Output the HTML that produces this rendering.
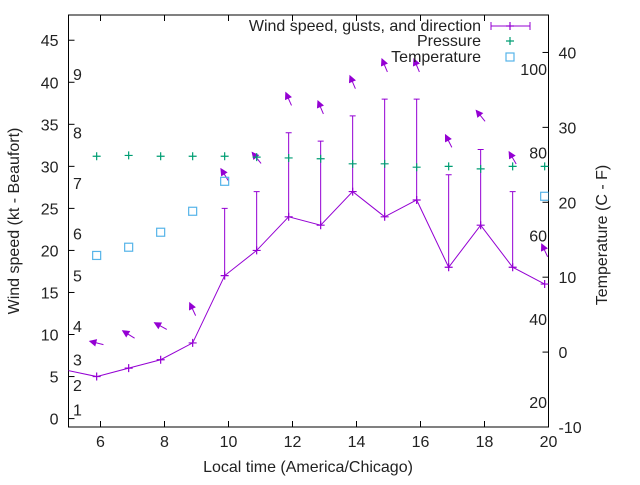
<!DOCTYPE html>
<html><head><meta charset="utf-8"><style>
body{margin:0;background:#fff}
svg text{font-family:"Liberation Sans",Arial,sans-serif;font-size:16px;fill:#222}
</style></head><body>
<svg id="c" width="640" height="480" viewBox="0 0 640 480">
<defs><clipPath id="pc"><rect x="68.5" y="15" width="480" height="412"/></clipPath></defs>
<g id="grid"></g>
<g id="marks" clip-path="url(#pc)"></g>
<g id="legend"></g>
</svg>
<script>
const times=[5.88,6.88,7.88,8.88,9.88,10.88,11.88,12.88,13.88,14.88,15.88,16.88,17.88,18.88,19.88];
const speed=[5,6,7,9,17,20,24,23,27,24,26,18,23,18,16];
const gust=[null,null,null,null,25,27,34,33,36,38,38,29,32,27,null];
const pressure=[31.2,31.3,31.2,31.2,31.2,31.1,31.0,30.9,30.3,30.3,29.9,30.0,29.7,30.0,30.0];
const tempC=[12.9,14,16,18.8,22.8,null,null,null,null,null,null,null,null,null,20.8];
const windDir=[104,122,119,155,148,141,156,157,157,157,157,153,141,150,155];
const prevTime=4.88, prevSpeed=5.8;
const xTicks=[6,8,10,12,14,16,18,20];
const yTicks=[0,5,10,15,20,25,30,35,40,45];
const y2Ticks=[-10,0,10,20,30,40];
const beaufortLabels=[[1,1.1],[2,4],[3,7],[4,11],[5,17],[6,22],[7,28],[8,34],[9,41]];
const fahrenheitLabels=[20,40,60,80,100];

const X0=68.5,X1=548.5,YT=15,YB=427;
const xs=t=>X0+(t-5)/15*(X1-X0);
const ys=v=>YB-(v+1)/49*(YB-YT);
const y2=c=>YB-(c+10)/55*(YB-YT);
const NS='http://www.w3.org/2000/svg';
function mk(tag,attrs,parent,txt){const e=document.createElementNS(NS,tag);for(const k in attrs)e.setAttribute(k,attrs[k]);if(txt!=null)e.textContent=txt;parent.appendChild(e);return e;}
const G=document.getElementById('grid'),M=document.getElementById('marks'),L=document.getElementById('legend');
// frame
let fr=mk('rect',{x:X0,y:YT,width:X1-X0,height:YB-YT,fill:'none',stroke:'#000','stroke-width':1},G);

xTicks.forEach(t=>{const x=xs(t);
 mk('line',{x1:x,y1:YB,x2:x,y2:YB-6,stroke:'#000'},G);mk('line',{x1:x,y1:YT,x2:x,y2:YT+6,stroke:'#000'},G);
 const tx=mk('text',{x:x,y:YB+20,'text-anchor':'middle'},G,t);
 });
yTicks.forEach(v=>{const y=ys(v);mk('line',{x1:X0,y1:y,x2:X0+6,y2:y,stroke:'#000'},G);
 const tx=mk('text',{x:X0-10,y:y+6,'text-anchor':'end'},G,v);
 });
y2Ticks.forEach(v=>{const y=y2(v);mk('line',{x1:X1,y1:y,x2:X1-6,y2:y,stroke:'#000'},G);
 const tx=mk('text',{x:X1+10,y:y+6},G,v);
 });
beaufortLabels.forEach(b=>{const tx=mk('text',{x:73,y:ys(b[1])+6},G,b[0]);
 });
fahrenheitLabels.forEach(f=>{const tx=mk('text',{x:547,y:y2((f-32)*5/9)+6,'text-anchor':'end'},G,f);
 });
let t1=mk('text',{x:308,y:472,'text-anchor':'middle'},G,'Local time (America/Chicago)');

let t2=mk('text',{x:0,y:0,'text-anchor':'middle',transform:'translate(19,221) rotate(-90)'},G,'Wind speed (kt - Beaufort)');

let t3=mk('text',{x:0,y:0,'text-anchor':'middle',transform:'translate(607,235) rotate(-90)'},G,'Temperature (C - F)');


const P='#9400d3',GR='#009e73',BL='#56b4e9';
function plus(x,y,c,par){mk('path',{d:`M${x-4},${y}H${x+4}M${x},${y-4}V${y+4}`,stroke:c,'stroke-width':1.2,fill:'none'},par);}
// wind line
let pts=[[xs(prevTime),ys(prevSpeed)]].concat(times.map((t,i)=>[xs(t),ys(speed[i])]));
let ln=mk('polyline',{points:pts.map(p=>p.join(',')).join(' '),fill:'none',stroke:P,'stroke-width':1},M);

times.forEach((t,i)=>{const x=xs(t);
 if(gust[i]!=null){const g=mk('path',{d:`M${x},${ys(speed[i])}V${ys(gust[i])}M${x-3},${ys(gust[i])}H${x+3}`,stroke:P,fill:'none'},M);
  }
 plus(x,ys(speed[i]),P,M);
 // arrow
 const top=Math.max(speed[i],gust[i]||0)+4,cy=ys(top);
 const b=(windDir[i]+180)*Math.PI/180,dx=Math.sin(b),dy=-Math.cos(b);
 const hx=x+dx*7,hy=cy+dy*7,tx=x-dx*7,tyy=cy-dy*7;
 const ag=mk('g',{},M);
 mk('line',{x1:tx,y1:tyy,x2:hx,y2:hy,stroke:P,'stroke-width':1},ag);
 const px=-dy,py=dx;
 mk('polygon',{points:`${hx},${hy} ${hx-dx*6+px*3},${hy-dy*6+py*3} ${hx-dx*6-px*3},${hy-dy*6-py*3}`,fill:P,stroke:P},ag);
 // pressure
 plus(x,ys(pressure[i]),GR,M);
 if(tempC[i]!=null){const s=mk('rect',{x:x-4,y:y2(tempC[i])-4,width:8,height:8,fill:'none',stroke:BL,'stroke-width':1.2},M);
  }
});
// legend
[['Wind speed, gusts, and direction',26],['Pressure',41],['Temperature',57]].forEach((r,i)=>{
 const tx=mk('text',{x:481,y:r[1]+5,'text-anchor':'end'},L,r[0]);
 });
mk('path',{d:'M491,26H530M491,22V30M530,22V30',stroke:P,fill:'none'},L);plus(510,26,P,L);
plus(510,41,GR,L);
mk('rect',{x:506,y:53,width:8,height:8,fill:'none',stroke:BL,'stroke-width':1.2},L);
</script>
</body></html>
